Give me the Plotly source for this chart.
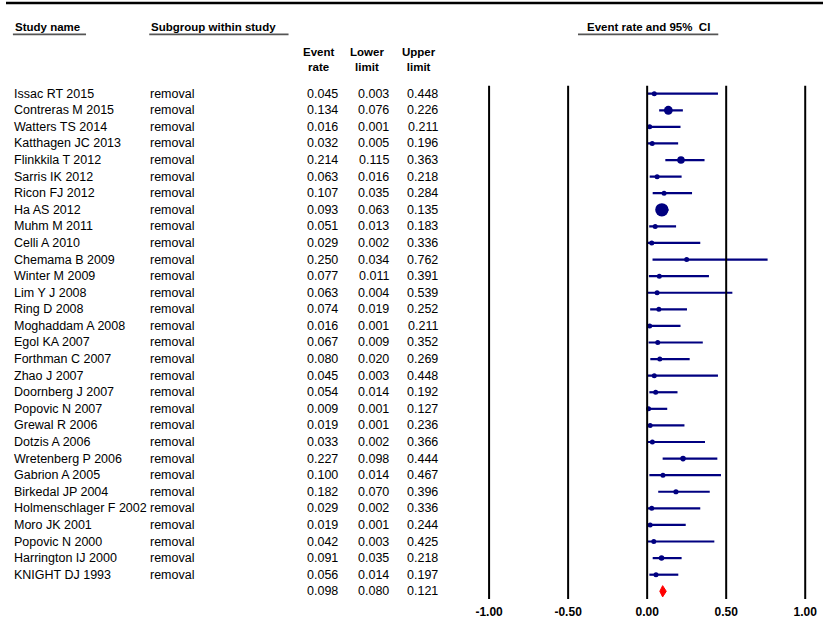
import numpy as np
import plotly.graph_objects as go

studies = ["Issac RT 2015", "Contreras M 2015", "Watters TS 2014", "Katthagen JC 2013",
           "Flinkkila T 2012", "Sarris IK 2012", "Ricon FJ 2012", "Ha AS 2012",
           "Muhm M 2011", "Celli A 2010", "Chemama B 2009", "Winter M 2009",
           "Lim Y J 2008", "Ring D 2008", "Moghaddam A 2008", "Egol KA 2007",
           "Forthman C 2007", "Zhao J 2007", "Doornberg J 2007", "Popovic N 2007",
           "Grewal R 2006", "Dotzis A 2006", "Wretenberg P 2006", "Gabrion A 2005",
           "Birkedal JP 2004", "Holmenschlager F 2002", "Moro JK 2001", "Popovic N 2000",
           "Harrington IJ 2000", "KNIGHT DJ 1993"]
subgroup = ["removal"] * len(studies)
event_rate = [0.045, 0.134, 0.016, 0.032, 0.214, 0.063, 0.107, 0.093, 0.051, 0.029,
              0.250, 0.077, 0.063, 0.074, 0.016, 0.067, 0.080, 0.045, 0.054, 0.009,
              0.019, 0.033, 0.227, 0.100, 0.182, 0.029, 0.019, 0.042, 0.091, 0.056]
lower = [0.003, 0.076, 0.001, 0.005, 0.115, 0.016, 0.035, 0.063, 0.013, 0.002,
         0.034, 0.011, 0.004, 0.019, 0.001, 0.009, 0.020, 0.003, 0.014, 0.001,
         0.001, 0.002, 0.098, 0.014, 0.070, 0.002, 0.001, 0.003, 0.035, 0.014]
upper = [0.448, 0.226, 0.211, 0.196, 0.363, 0.218, 0.284, 0.135, 0.183, 0.336,
         0.762, 0.391, 0.539, 0.252, 0.211, 0.352, 0.269, 0.448, 0.192, 0.127,
         0.236, 0.366, 0.444, 0.467, 0.396, 0.336, 0.244, 0.425, 0.218, 0.197]
summary = [0.098, 0.080, 0.121]
tick_vals = [-1.0, -0.5, 0.0, 0.5, 1.0]
tick_text = ["-1.00", "-0.50", "0.00", "0.50", "1.00"]

W, H = 827, 619
FONT = "Liberation Sans, Arial, sans-serif"
NAVY = "#000080"

n = len(studies)
rows = list(range(n))
summary_row = n

# weights from CI (logit scale, inverse variance) -> marker size
er = np.array(event_rate); lo = np.array(lower); up = np.array(upper)
logit = lambda p: np.log(p / (1 - p))
se = (logit(up) - logit(lo)) / (2 * 1.96)
w = 1 / se ** 2
msize = np.maximum(5, 2.86 * np.sqrt(w))

def py(px):
    return 1 - px / H

def pxx(px):
    return px / W

fig = go.Figure()
fig.add_trace(go.Scatter(
    x=event_rate, y=rows, mode="markers",
    marker=dict(color=NAVY, size=msize, symbol="circle", opacity=1, line=dict(width=0)),
    error_x=dict(type="data", symmetric=False,
                 array=list(up - er), arrayminus=list(er - lo),
                 color=NAVY, thickness=2.2, width=0),
    hoverinfo="skip"))

# summary diamond
e, l, u = summary
hh = 0.34
fig.add_trace(go.Scatter(
    x=[l, e, u, e, l], y=[summary_row, summary_row - hh, summary_row, summary_row + hh, summary_row],
    mode="lines", fill="toself", fillcolor="#ff0000", line=dict(color="#ff0000", width=1),
    hoverinfo="skip"))

shapes = []
# vertical reference lines
for v in tick_vals:
    shapes.append(dict(type="line", xref="x", yref="paper", x0=v, x1=v,
                       y0=py(601), y1=py(86), line=dict(color="black", width=2)))
# top rule
shapes.append(dict(type="line", xref="paper", yref="paper", x0=0, x1=1,
                   y0=py(3), y1=py(3), line=dict(color="black", width=2.5)))
# header underlines
for x0, x1 in [(7, 81), (145, 286), (579, 721)]:
    shapes.append(dict(type="line", xref="paper", yref="paper", x0=pxx(x0), x1=pxx(x1),
                       y0=py(34.5), y1=py(34.5), line=dict(color="#555555", width=1.8)))

ann = []
hdr = dict(family=FONT, size=11.5, color="black")
def bold(t):
    return "<b>" + t + "</b>"
ann.append(dict(text=bold("Study name"), x=pxx(7), y=py(27), xanchor="left", yanchor="middle"))
ann.append(dict(text=bold("Subgroup within study"), x=pxx(145), y=py(27), xanchor="left", yanchor="middle"))
ann.append(dict(text=bold("Event rate and 95%  CI"), x=pxx(650), y=py(27), xanchor="center", yanchor="middle"))
for t, cx in [("Event<br>rate", 316), ("Lower<br>limit", 365), ("Upper<br>limit", 418)]:
    ann.append(dict(text=bold(t), x=pxx(cx), y=py(60), xanchor="center", yanchor="middle", align="center"))
for a in ann:
    a.update(xref="paper", yref="paper", showarrow=False, font=hdr)

rowfont = dict(family=FONT, size=12.5, color="black")
for i in rows:
    ann.append(dict(text=studies[i], x=pxx(6), y=i, xanchor="left"))
    ann.append(dict(text=subgroup[i], x=pxx(144), y=i, xanchor="left"))
    ann.append(dict(text=f"{event_rate[i]:.3f}", x=pxx(338), y=i, xanchor="right"))
    ann.append(dict(text=f"{lower[i]:.3f}", x=pxx(390), y=i, xanchor="right"))
    ann.append(dict(text=f"{upper[i]:.3f}", x=pxx(439), y=i, xanchor="right"))
for val, xr in zip(summary, [338, 390, 439]):
    ann.append(dict(text=f"{val:.3f}", x=pxx(xr), y=summary_row, xanchor="right"))
for a in ann:
    if a.get("yref") is None:
        a.update(xref="paper", yref="y", yanchor="middle", showarrow=False, font=rowfont)

# axis geometry: -1 -> 489px, 1 -> 809px
x_lo_px, x_hi_px = 481, 817
ppu = 160.0
xr0 = -1 - (489 - x_lo_px) / ppu
xr1 = 1 + (x_hi_px - 809) / ppu
row_px = 16.64
top_px, bot_px = 86, 601
y_top = -(94 - top_px) / row_px
y_bot = (bot_px - 94) / row_px

fig.update_layout(
    width=W, height=H, margin=dict(l=0, r=0, t=0, b=0),
    paper_bgcolor="white", plot_bgcolor="white", showlegend=False,
    xaxis=dict(domain=[x_lo_px / W, x_hi_px / W], range=[xr0, xr1],
               tickvals=tick_vals, ticktext=[bold(t) for t in tick_text],
               tickfont=dict(family=FONT, size=12, color="black"),
               ticklabelstandoff=4,
               showgrid=False, zeroline=False, showline=False, ticks="", ticklen=0),
    yaxis=dict(domain=[py(bot_px), py(top_px)], range=[y_bot, y_top],
               showgrid=False, zeroline=False, showline=False, showticklabels=False, ticks=""),
    shapes=shapes, annotations=ann,
)
fig.write_html("out.html")
